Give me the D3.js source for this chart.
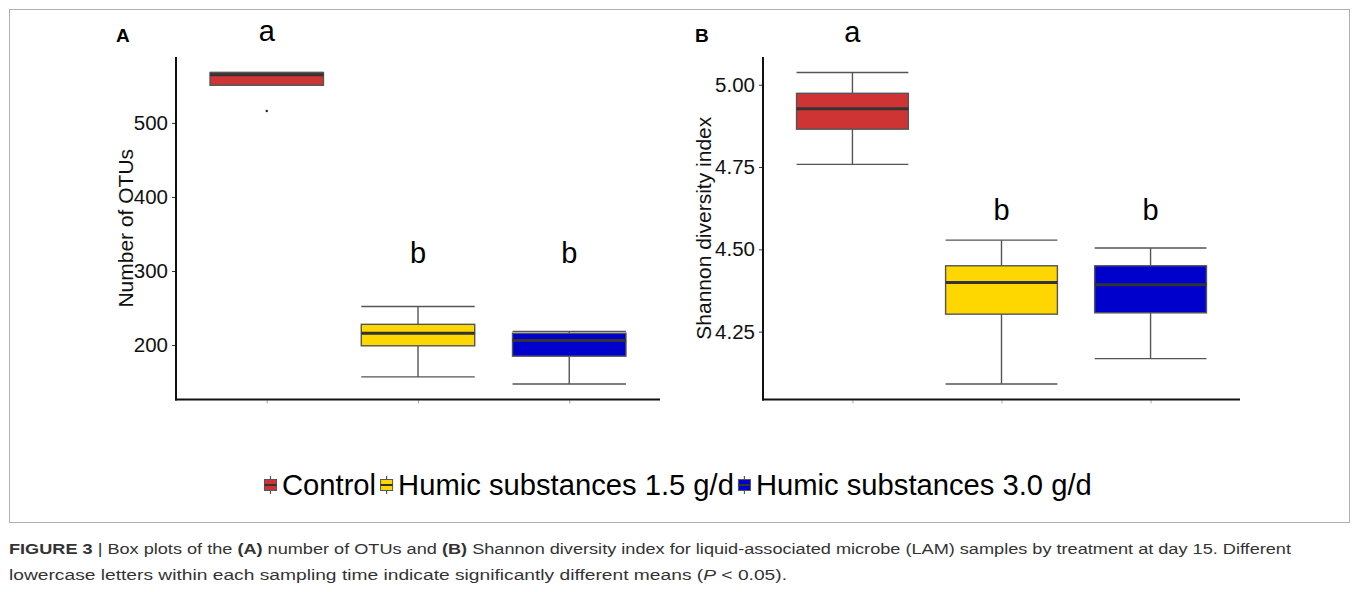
<!DOCTYPE html>
<html>
<head>
<meta charset="utf-8">
<script src="https://d3js.org/d3.v7.min.js"></script>
<style>
  body { margin: 0; background: #fff; }
  text { font-family: "Liberation Sans", Arial, sans-serif; }
</style>
</head>
<body>
<svg id="vis"></svg>

<script>
  var W = 1358, H = 592

  // Data
  var categories = ["Control", "Humic substances 1.5 g/d", "Humic substances 3.0 g/d"]
  var colors = ["#cf3434", "#ffd700", "#0000cd"]

  // [lower whisker, q1, median, q3, upper whisker]
  var otuStats = [
    [551, 551, 565, 568, 568],
    [157, 199, 216, 228, 252],
    [147.5, 185, 206, 216, 218.5]
  ]
  var otuOutliers = [[516], [], []]
  var otuTicks = [200, 300, 400, 500]
  var otuLetters = ["a", "b", "b"]
  var otuLetterY = [610, 311, 311]

  var shannonStats = [
    [4.758, 4.865, 4.927, 4.974, 5.037],
    [4.091, 4.303, 4.399, 4.450, 4.528],
    [4.168, 4.307, 4.392, 4.450, 4.504]
  ]
  var shannonOutliers = [[], [], []]
  var shannonTicks = [4.25, 4.50, 4.75, 5.00]
  var shannonLetters = ["a", "b", "b"]
  var shannonLetterY = [5.130, 4.589, 4.589]

  var svg = d3.select('#vis')
      .attr('width', W)
      .attr('height', H)

  // frame round the figure
  svg.append('rect')
    .attr('x', 9.5).attr('y', 9.5)
    .attr('width', 1340).attr('height', 513)
    .attr('fill', 'none')
    .attr('stroke', '#b0b0b0')
    .attr('stroke-width', 1)

  function panel(opt) {
    var g = svg.append('g')

    var lo = d3.min(opt.stats, function (d, i) { return d3.min([d[0]].concat(opt.outliers[i])) })
    var hi = d3.max(opt.stats, function (d, i) { return d3.max([d[4]].concat(opt.outliers[i])) })
    var pad = (hi - lo) * 0.05

    var x = d3.scalePoint()
      .domain(categories)
      .range([opt.left, opt.right])
      .padding(0.6)
    var y = d3.scaleLinear()
      .domain([lo - pad, hi + pad])
      .range([opt.bottom, opt.top])

    var bw = x.step() * 0.75

    // y axis
    var ya = g.append('g')
      .attr('transform', 'translate(' + opt.left + ',0)')
      .call(d3.axisLeft(y).tickValues(opt.ticks).tickFormat(opt.fmt).tickSize(4).tickPadding(4))
    ya.select('.domain').remove()
    ya.selectAll('.tick line').attr('stroke', '#333').attr('stroke-width', 1)
    ya.selectAll('.tick text')
      .attr('font-size', 20.5)
      .attr('fill', '#111')
      .style('font-family', '"Liberation Sans", Arial, sans-serif')

    // x axis ticks only
    var xa = g.append('g')
      .attr('transform', 'translate(0,' + opt.bottom + ')')
      .call(d3.axisBottom(x).tickSize(4).tickFormat(''))
    xa.select('.domain').remove()
    xa.selectAll('.tick line').attr('stroke', '#aaa').attr('stroke-width', 1)

    // axis lines
    g.append('line')
      .attr('x1', opt.left).attr('x2', opt.left)
      .attr('y1', opt.top).attr('y2', opt.bottom + 1)
      .attr('stroke', '#111').attr('stroke-width', 2)
    g.append('line')
      .attr('x1', opt.left - 1).attr('x2', opt.right)
      .attr('y1', opt.bottom).attr('y2', opt.bottom)
      .attr('stroke', '#111').attr('stroke-width', 2)

    // axis title
    g.append('text')
      .attr('transform', 'translate(' + opt.titleX + ',' + ((opt.top + opt.bottom) / 2) + ') rotate(-90)')
      .attr('text-anchor', 'middle')
      .attr('font-size', 21)
      .attr('fill', '#111')
      .text(opt.title)

    // boxes
    var boxes = g.selectAll('.box')
      .data(opt.stats)
      .enter().append('g')
      .attr('class', 'box')

    boxes.append('line')
      .attr('x1', function (d, i) { return x(categories[i]) })
      .attr('x2', function (d, i) { return x(categories[i]) })
      .attr('y1', function (d) { return y(d[4]) })
      .attr('y2', function (d) { return y(d[0]) })
      .attr('stroke', '#555').attr('stroke-width', 1.4)

    boxes.selectAll('.cap')
      .data(function (d, i) { return [[d[0], i], [d[4], i]] })
      .enter().append('line')
      .attr('x1', function (d) { return x(categories[d[1]]) - bw / 2 })
      .attr('x2', function (d) { return x(categories[d[1]]) + bw / 2 })
      .attr('y1', function (d) { return y(d[0]) })
      .attr('y2', function (d) { return y(d[0]) })
      .attr('stroke', '#555').attr('stroke-width', 1.4)

    boxes.append('rect')
      .attr('x', function (d, i) { return x(categories[i]) - bw / 2 })
      .attr('y', function (d) { return y(d[3]) })
      .attr('width', bw)
      .attr('height', function (d) { return y(d[1]) - y(d[3]) })
      .attr('fill', function (d, i) { return colors[i] })
      .attr('stroke', '#555').attr('stroke-width', 1.4)

    boxes.append('line')
      .attr('x1', function (d, i) { return x(categories[i]) - bw / 2 })
      .attr('x2', function (d, i) { return x(categories[i]) + bw / 2 })
      .attr('y1', function (d) { return y(d[2]) })
      .attr('y2', function (d) { return y(d[2]) })
      .attr('stroke', '#333').attr('stroke-width', 3)

    // outliers
    opt.outliers.forEach(function (arr, i) {
      g.selectAll(null)
        .data(arr)
        .enter().append('circle')
        .attr('cx', x(categories[i]))
        .attr('cy', function (v) { return y(v) })
        .attr('r', 1.2)
        .attr('fill', '#222')
    })

    // significance letters
    g.selectAll('.sig')
      .data(opt.letters)
      .enter().append('text')
      .attr('class', 'sig')
      .attr('x', function (d, i) { return x(categories[i]) })
      .attr('y', function (d, i) { return y(opt.letterY[i]) })
      .attr('text-anchor', 'middle')
      .attr('font-size', 29)
      .attr('fill', '#000')
      .text(function (d) { return d })

    // panel tag
    g.append('text')
      .attr('x', opt.tagX)
      .attr('y', 42)
      .attr('font-size', 19)
      .attr('font-weight', 'bold')
      .attr('fill', '#000')
      .text(opt.tag)
  }

  panel({
    tag: 'A', tagX: 116,
    left: 176, right: 660, top: 57, bottom: 399.5,
    stats: otuStats, outliers: otuOutliers,
    ticks: otuTicks, fmt: d3.format('d'),
    letters: otuLetters, letterY: otuLetterY,
    title: 'Number of OTUs', titleX: 133
  })

  panel({
    tag: 'B', tagX: 695,
    left: 763, right: 1240, top: 57, bottom: 399.5,
    stats: shannonStats, outliers: shannonOutliers,
    ticks: shannonTicks, fmt: d3.format('.2f'),
    letters: shannonLetters, letterY: shannonLetterY,
    title: 'Shannon diversity index', titleX: 711
  })

  // Legend
  var legend = svg.append('g')
  var lx = 264
  categories.forEach(function (c, i) {
    var k = legend.append('g').attr('transform', 'translate(' + lx + ',476)')
    k.append('line')
      .attr('x1', 6.5).attr('x2', 6.5).attr('y1', 0).attr('y2', 18)
      .attr('stroke', '#555').attr('stroke-width', 1.2)
    k.append('rect')
      .attr('x', 0.5).attr('y', 3.5).attr('width', 12).attr('height', 11)
      .attr('fill', colors[i]).attr('stroke', '#555').attr('stroke-width', 1)
    k.append('line')
      .attr('x1', 0.5).attr('x2', 12.5).attr('y1', 9).attr('y2', 9)
      .attr('stroke', '#333').attr('stroke-width', 2)
    var t = legend.append('text')
      .attr('x', lx + 18)
      .attr('y', 494.5)
      .attr('font-size', 29.2)
      .attr('fill', '#000')
      .text(c)
    lx = lx + 18 + t.node().getComputedTextLength() + 4
  })

  // Caption
  var cap1 = svg.append('text')
    .attr('x', 9).attr('y', 554)
    .attr('font-size', 15.5)
    .attr('fill', '#333')
    .attr('textLength', 1282)
    .attr('lengthAdjust', 'spacingAndGlyphs')
  cap1.append('tspan').attr('font-weight', 'bold').text('FIGURE 3 ')
  cap1.append('tspan').text('| Box plots of the ')
  cap1.append('tspan').attr('font-weight', 'bold').text('(A)')
  cap1.append('tspan').text(' number of OTUs and ')
  cap1.append('tspan').attr('font-weight', 'bold').text('(B)')
  cap1.append('tspan').text(' Shannon diversity index for liquid-associated microbe (LAM) samples by treatment at day 15. Different')

  var cap2 = svg.append('text')
    .attr('x', 9).attr('y', 580)
    .attr('font-size', 15.5)
    .attr('fill', '#333')
    .attr('textLength', 778)
    .attr('lengthAdjust', 'spacingAndGlyphs')
  cap2.append('tspan').text('lowercase letters within each sampling time indicate significantly different means (')
  cap2.append('tspan').attr('font-style', 'italic').text('P')
  cap2.append('tspan').text(' < 0.05).')
</script>
</body>
</html>
